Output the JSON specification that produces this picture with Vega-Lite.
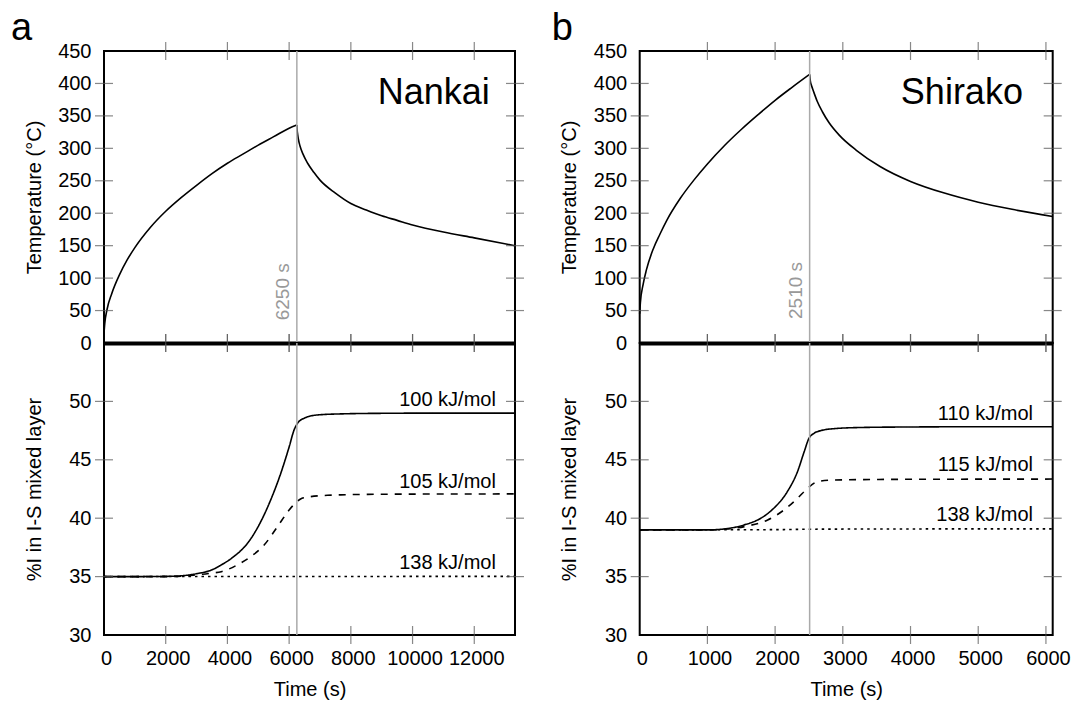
{
  "$schema": "https://vega.github.io/schema/vega-lite/v6.json",
  "background": "white",
  "autosize": {"type": "pad"},
  "padding": {"left": 10, "top": 9, "right": 0, "bottom": 0},
  "config": {
    "font": "Liberation Sans",
    "view": {"stroke": "black", "strokeWidth": 2},
    "axis": {
      "labelFontSize": 20, "labelColor": "black", "titleFontSize": 20, "titleFontWeight": "normal", "titleColor": "black",
      "ticks": false, "zindex": 1, "domain": false, "grid": false, "labelFlush": false, "labelOverlap": false
    },
    "tick": {"color": "#555555", "thickness": 1.2, "size": 18, "clip": true},
    "title": {"fontSize": 38, "fontWeight": "normal", "color": "black", "anchor": "start", "frame": "group", "baseline": "alphabetic"}
  },
  "columns": 2,
  "spacing": {"row": 0, "column": 124.7},
  "bounds": "flush",
  "datasets": {
    "one": [{}],
    "ticksXA": [{"v": 2000}, {"v": 4000}, {"v": 6000}, {"v": 8000}, {"v": 10000}, {"v": 12000}],
    "ticksXB": [{"v": 1000}, {"v": 2000}, {"v": 3000}, {"v": 4000}, {"v": 5000}, {"v": 6000}],
    "ticksYT": [{"v": 50}, {"v": 100}, {"v": 150}, {"v": 200}, {"v": 250}, {"v": 300}, {"v": 350}, {"v": 400}],
    "ticksYI": [{"v": 35}, {"v": 40}, {"v": 45}, {"v": 50}],
    "nankaiT": [
      {"t": 0, "T": 15, "phase": "heating"}, {"t": 25, "T": 30, "phase": "heating"}, {"t": 100, "T": 52, "phase": "heating"},
      {"t": 250, "T": 76, "phase": "heating"}, {"t": 500, "T": 105, "phase": "heating"}, {"t": 750, "T": 128, "phase": "heating"},
      {"t": 1000, "T": 147, "phase": "heating"}, {"t": 1500, "T": 178, "phase": "heating"}, {"t": 2000, "T": 203, "phase": "heating"},
      {"t": 2500, "T": 224, "phase": "heating"}, {"t": 3000, "T": 243, "phase": "heating"}, {"t": 3500, "T": 261, "phase": "heating"},
      {"t": 4000, "T": 277, "phase": "heating"}, {"t": 4500, "T": 291, "phase": "heating"}, {"t": 5000, "T": 305, "phase": "heating"},
      {"t": 5500, "T": 318, "phase": "heating"}, {"t": 6000, "T": 331, "phase": "heating"}, {"t": 6250, "T": 336, "phase": "heating"},
      {"t": 6250, "T": 336, "phase": "cooling"}, {"t": 6260, "T": 328, "phase": "cooling"}, {"t": 6275, "T": 322, "phase": "cooling"},
      {"t": 6300, "T": 314, "phase": "cooling"}, {"t": 6350, "T": 304, "phase": "cooling"}, {"t": 6450, "T": 291, "phase": "cooling"},
      {"t": 6600, "T": 277, "phase": "cooling"}, {"t": 6800, "T": 263, "phase": "cooling"}, {"t": 7000, "T": 251, "phase": "cooling"},
      {"t": 7500, "T": 231, "phase": "cooling"}, {"t": 8000, "T": 215, "phase": "cooling"}, {"t": 8500, "T": 205, "phase": "cooling"},
      {"t": 9000, "T": 196, "phase": "cooling"}, {"t": 9500, "T": 189, "phase": "cooling"}, {"t": 10000, "T": 182, "phase": "cooling"},
      {"t": 11000, "T": 171, "phase": "cooling"}, {"t": 12000, "T": 162, "phase": "cooling"}, {"t": 13320, "T": 150, "phase": "cooling"}
    ],
    "shirakoT": [
      {"t": 0, "T": 45, "phase": "heating"}, {"t": 10, "T": 62, "phase": "heating"}, {"t": 50, "T": 90, "phase": "heating"},
      {"t": 100, "T": 113, "phase": "heating"}, {"t": 200, "T": 145, "phase": "heating"}, {"t": 300, "T": 168, "phase": "heating"},
      {"t": 400, "T": 189, "phase": "heating"}, {"t": 600, "T": 223, "phase": "heating"}, {"t": 800, "T": 251, "phase": "heating"},
      {"t": 1000, "T": 276, "phase": "heating"}, {"t": 1250, "T": 304, "phase": "heating"}, {"t": 1500, "T": 329, "phase": "heating"},
      {"t": 1750, "T": 352, "phase": "heating"}, {"t": 2000, "T": 374, "phase": "heating"}, {"t": 2250, "T": 394, "phase": "heating"},
      {"t": 2510, "T": 414, "phase": "heating"},
      {"t": 2510, "T": 414, "phase": "cooling"}, {"t": 2520, "T": 404, "phase": "cooling"}, {"t": 2540, "T": 396, "phase": "cooling"},
      {"t": 2570, "T": 387, "phase": "cooling"}, {"t": 2620, "T": 373, "phase": "cooling"}, {"t": 2700, "T": 356, "phase": "cooling"},
      {"t": 2800, "T": 339, "phase": "cooling"}, {"t": 2950, "T": 320, "phase": "cooling"}, {"t": 3200, "T": 297, "phase": "cooling"},
      {"t": 3550, "T": 272, "phase": "cooling"}, {"t": 4000, "T": 249, "phase": "cooling"}, {"t": 4500, "T": 231, "phase": "cooling"},
      {"t": 5000, "T": 217, "phase": "cooling"}, {"t": 5500, "T": 206, "phase": "cooling"}, {"t": 6100, "T": 195, "phase": "cooling"}
    ],
    "nankaiI": [
      {"t": 0, "pct": 35, "Ea": "100 kJ/mol"}, {"t": 1000, "pct": 35, "Ea": "100 kJ/mol"}, {"t": 2000, "pct": 35.02, "Ea": "100 kJ/mol"},
      {"t": 2500, "pct": 35.07, "Ea": "100 kJ/mol"}, {"t": 3000, "pct": 35.25, "Ea": "100 kJ/mol"}, {"t": 3500, "pct": 35.58, "Ea": "100 kJ/mol"},
      {"t": 3800, "pct": 36.0, "Ea": "100 kJ/mol"}, {"t": 4200, "pct": 36.7, "Ea": "100 kJ/mol"}, {"t": 4650, "pct": 37.85, "Ea": "100 kJ/mol"},
      {"t": 5080, "pct": 39.7, "Ea": "100 kJ/mol"}, {"t": 5400, "pct": 41.55, "Ea": "100 kJ/mol"}, {"t": 5730, "pct": 43.85, "Ea": "100 kJ/mol"},
      {"t": 6000, "pct": 46.1, "Ea": "100 kJ/mol"}, {"t": 6160, "pct": 47.55, "Ea": "100 kJ/mol"}, {"t": 6270, "pct": 48.12, "Ea": "100 kJ/mol"},
      {"t": 6480, "pct": 48.55, "Ea": "100 kJ/mol"}, {"t": 6920, "pct": 48.84, "Ea": "100 kJ/mol"}, {"t": 7670, "pct": 48.93, "Ea": "100 kJ/mol"},
      {"t": 9000, "pct": 48.98, "Ea": "100 kJ/mol"}, {"t": 11000, "pct": 49.0, "Ea": "100 kJ/mol"}, {"t": 13320, "pct": 49.0, "Ea": "100 kJ/mol"},
      {"t": 0, "pct": 35, "Ea": "105 kJ/mol"}, {"t": 2000, "pct": 35, "Ea": "105 kJ/mol"}, {"t": 2500, "pct": 35.03, "Ea": "105 kJ/mol"},
      {"t": 3000, "pct": 35.15, "Ea": "105 kJ/mol"}, {"t": 3500, "pct": 35.3, "Ea": "105 kJ/mol"}, {"t": 3800, "pct": 35.42, "Ea": "105 kJ/mol"},
      {"t": 4320, "pct": 36.0, "Ea": "105 kJ/mol"}, {"t": 4750, "pct": 36.7, "Ea": "105 kJ/mol"}, {"t": 5190, "pct": 37.7, "Ea": "105 kJ/mol"},
      {"t": 5620, "pct": 39.27, "Ea": "105 kJ/mol"}, {"t": 6000, "pct": 40.7, "Ea": "105 kJ/mol"}, {"t": 6250, "pct": 41.41, "Ea": "105 kJ/mol"},
      {"t": 6400, "pct": 41.68, "Ea": "105 kJ/mol"}, {"t": 6600, "pct": 41.8, "Ea": "105 kJ/mol"}, {"t": 7240, "pct": 41.96, "Ea": "105 kJ/mol"},
      {"t": 7670, "pct": 42.0, "Ea": "105 kJ/mol"}, {"t": 9000, "pct": 42.05, "Ea": "105 kJ/mol"}, {"t": 11000, "pct": 42.07, "Ea": "105 kJ/mol"},
      {"t": 13320, "pct": 42.08, "Ea": "105 kJ/mol"},
      {"t": 0, "pct": 35, "Ea": "138 kJ/mol"}, {"t": 6250, "pct": 35.01, "Ea": "138 kJ/mol"}, {"t": 13320, "pct": 35.02, "Ea": "138 kJ/mol"}
    ],
    "shirakoI": [
      {"t": 0, "pct": 39, "Ea": "110 kJ/mol"}, {"t": 1000, "pct": 39.0, "Ea": "110 kJ/mol"}, {"t": 1300, "pct": 39.12, "Ea": "110 kJ/mol"},
      {"t": 1540, "pct": 39.42, "Ea": "110 kJ/mol"}, {"t": 1790, "pct": 40.0, "Ea": "110 kJ/mol"}, {"t": 1980, "pct": 40.85, "Ea": "110 kJ/mol"},
      {"t": 2180, "pct": 42.27, "Ea": "110 kJ/mol"}, {"t": 2330, "pct": 43.98, "Ea": "110 kJ/mol"}, {"t": 2430, "pct": 45.7, "Ea": "110 kJ/mol"},
      {"t": 2500, "pct": 46.84, "Ea": "110 kJ/mol"}, {"t": 2575, "pct": 47.27, "Ea": "110 kJ/mol"}, {"t": 2675, "pct": 47.5, "Ea": "110 kJ/mol"},
      {"t": 2900, "pct": 47.68, "Ea": "110 kJ/mol"}, {"t": 3300, "pct": 47.77, "Ea": "110 kJ/mol"}, {"t": 4000, "pct": 47.81, "Ea": "110 kJ/mol"},
      {"t": 5000, "pct": 47.83, "Ea": "110 kJ/mol"}, {"t": 6100, "pct": 47.83, "Ea": "110 kJ/mol"},
      {"t": 0, "pct": 39, "Ea": "115 kJ/mol"}, {"t": 1000, "pct": 39.0, "Ea": "115 kJ/mol"}, {"t": 1300, "pct": 39.08, "Ea": "115 kJ/mol"},
      {"t": 1590, "pct": 39.33, "Ea": "115 kJ/mol"}, {"t": 1890, "pct": 39.85, "Ea": "115 kJ/mol"}, {"t": 2130, "pct": 40.7, "Ea": "115 kJ/mol"},
      {"t": 2330, "pct": 41.7, "Ea": "115 kJ/mol"}, {"t": 2480, "pct": 42.56, "Ea": "115 kJ/mol"}, {"t": 2625, "pct": 43.13, "Ea": "115 kJ/mol"},
      {"t": 2800, "pct": 43.25, "Ea": "115 kJ/mol"}, {"t": 3200, "pct": 43.3, "Ea": "115 kJ/mol"}, {"t": 4000, "pct": 43.33, "Ea": "115 kJ/mol"},
      {"t": 6100, "pct": 43.35, "Ea": "115 kJ/mol"},
      {"t": 0, "pct": 39.0, "Ea": "138 kJ/mol"}, {"t": 2000, "pct": 39.02, "Ea": "138 kJ/mol"}, {"t": 2600, "pct": 39.06, "Ea": "138 kJ/mol"},
      {"t": 4000, "pct": 39.08, "Ea": "138 kJ/mol"}, {"t": 6100, "pct": 39.09, "Ea": "138 kJ/mol"}
    ],
    "labelsA": [
      {"t": 12700, "pct": 49.61, "label": "100 kJ/mol"},
      {"t": 12700, "pct": 42.56, "label": "105 kJ/mol"},
      {"t": 12700, "pct": 35.62, "label": "138 kJ/mol"}
    ],
    "labelsB": [
      {"t": 5810, "pct": 48.41, "label": "110 kJ/mol"},
      {"t": 5810, "pct": 44.07, "label": "115 kJ/mol"},
      {"t": 5810, "pct": 39.79, "label": "138 kJ/mol"}
    ]
  },
  "concat": [
    {
      "width": 411, "height": 292,
      "title": {"text": "a", "dx": -93, "offset": -7},
      "resolve": {"axis": {"x": "independent", "y": "independent"}},
      "layer": [
        {
          "data": {"name": "nankaiT"},
          "mark": {"type": "line", "color": "black", "strokeWidth": 1.6, "interpolate": "monotone"},
          "encoding": {
            "x": {"field": "t", "type": "quantitative", "scale": {"domain": [0, 13320], "nice": false},
                  "axis": {"orient": "bottom", "values": [0, 2000, 4000, 6000, 8000, 10000, 12000], "labels": false, "title": null, "domain": true, "domainWidth": 4, "domainColor": "black"}},
            "y": {"field": "T", "type": "quantitative", "scale": {"domain": [0, 450], "nice": false},
                  "axis": {"orient": "left", "values": [0, 50, 100, 150, 200, 250, 300, 350, 400, 450], "title": "Temperature (°C)", "titleX": -60, "labelPadding": 13}},
            "detail": {"field": "phase"}
          }
        },
        {"data": {"name": "ticksXA"}, "mark": {"type": "tick", "orient": "vertical"},
         "encoding": {"x": {"field": "v", "type": "quantitative", "axis": null}, "y": {"datum": 0, "type": "quantitative", "axis": null}}},
        {"data": {"name": "ticksXA"}, "mark": {"type": "tick", "orient": "vertical"},
         "encoding": {"x": {"field": "v", "type": "quantitative", "axis": null}, "y": {"datum": 450, "type": "quantitative", "axis": null}}},
        {"data": {"name": "ticksYT"}, "mark": {"type": "tick", "orient": "horizontal"},
         "encoding": {"y": {"field": "v", "type": "quantitative", "axis": null}, "x": {"datum": 0, "type": "quantitative", "axis": null}}},
        {"data": {"name": "ticksYT"}, "mark": {"type": "tick", "orient": "horizontal"},
         "encoding": {"y": {"field": "v", "type": "quantitative", "axis": null}, "x": {"datum": 13320, "type": "quantitative", "axis": null}}},
        {"data": {"name": "one"}, "mark": {"type": "rule", "color": "#aaaaaa", "strokeWidth": 1.5},
         "encoding": {"x": {"datum": 6250, "type": "quantitative", "axis": null}}},
        {"data": {"name": "one"}, "mark": {"type": "text", "angle": 270, "align": "left", "baseline": "alphabetic", "dy": -8, "fontSize": 19, "color": "#999999"},
         "encoding": {"x": {"datum": 6250, "type": "quantitative", "axis": null}, "y": {"datum": 35, "type": "quantitative", "axis": null}, "text": {"value": "6250 s"}}},
        {"data": {"name": "one"}, "mark": {"type": "text", "align": "right", "baseline": "alphabetic", "fontSize": 36, "color": "black"},
         "encoding": {"x": {"datum": 12500, "type": "quantitative", "axis": null}, "y": {"datum": 369, "type": "quantitative", "axis": null}, "text": {"value": "Nankai"}}}
      ]
    },
    {
      "width": 413, "height": 292,
      "title": {"text": "b", "dx": -88, "offset": -7},
      "resolve": {"axis": {"x": "independent", "y": "independent"}},
      "layer": [
        {
          "data": {"name": "shirakoT"},
          "mark": {"type": "line", "color": "black", "strokeWidth": 1.6, "interpolate": "monotone"},
          "encoding": {
            "x": {"field": "t", "type": "quantitative", "scale": {"domain": [0, 6100], "nice": false},
                  "axis": {"orient": "bottom", "values": [0, 1000, 2000, 3000, 4000, 5000, 6000], "labels": false, "title": null, "domain": true, "domainWidth": 4, "domainColor": "black"}},
            "y": {"field": "T", "type": "quantitative", "scale": {"domain": [0, 450], "nice": false},
                  "axis": {"orient": "left", "values": [0, 50, 100, 150, 200, 250, 300, 350, 400, 450], "title": "Temperature (°C)", "titleX": -60, "labelPadding": 13}},
            "detail": {"field": "phase"}
          }
        },
        {"data": {"name": "ticksXB"}, "mark": {"type": "tick", "orient": "vertical"},
         "encoding": {"x": {"field": "v", "type": "quantitative", "axis": null}, "y": {"datum": 0, "type": "quantitative", "axis": null}}},
        {"data": {"name": "ticksXB"}, "mark": {"type": "tick", "orient": "vertical"},
         "encoding": {"x": {"field": "v", "type": "quantitative", "axis": null}, "y": {"datum": 450, "type": "quantitative", "axis": null}}},
        {"data": {"name": "ticksYT"}, "mark": {"type": "tick", "orient": "horizontal"},
         "encoding": {"y": {"field": "v", "type": "quantitative", "axis": null}, "x": {"datum": 0, "type": "quantitative", "axis": null}}},
        {"data": {"name": "ticksYT"}, "mark": {"type": "tick", "orient": "horizontal"},
         "encoding": {"y": {"field": "v", "type": "quantitative", "axis": null}, "x": {"datum": 6100, "type": "quantitative", "axis": null}}},
        {"data": {"name": "one"}, "mark": {"type": "rule", "color": "#aaaaaa", "strokeWidth": 1.5},
         "encoding": {"x": {"datum": 2510, "type": "quantitative", "axis": null}}},
        {"data": {"name": "one"}, "mark": {"type": "text", "angle": 270, "align": "left", "baseline": "alphabetic", "dy": -8, "fontSize": 19, "color": "#999999"},
         "encoding": {"x": {"datum": 2510, "type": "quantitative", "axis": null}, "y": {"datum": 37, "type": "quantitative", "axis": null}, "text": {"value": "2510 s"}}},
        {"data": {"name": "one"}, "mark": {"type": "text", "align": "right", "baseline": "alphabetic", "fontSize": 36, "color": "black"},
         "encoding": {"x": {"datum": 5660, "type": "quantitative", "axis": null}, "y": {"datum": 369, "type": "quantitative", "axis": null}, "text": {"value": "Shirako"}}}
      ]
    },
    {
      "width": 411, "height": 292,
      "resolve": {"axis": {"x": "independent", "y": "independent"}},
      "layer": [
        {
          "data": {"name": "nankaiI"},
          "mark": {"type": "line", "color": "black", "strokeWidth": 1.6, "interpolate": "monotone"},
          "encoding": {
            "x": {"field": "t", "type": "quantitative", "scale": {"domain": [0, 13320], "nice": false},
                  "axis": {"orient": "bottom", "values": [0, 2000, 4000, 6000, 8000, 10000, 12000], "format": "d", "title": "Time (s)", "labelPadding": 13.8, "labelOffset": 2, "titlePadding": 11}},
            "y": {"field": "pct", "type": "quantitative", "scale": {"domain": [30, 55], "nice": false},
                  "axis": {"orient": "left", "values": [30, 35, 40, 45, 50], "title": "%I in I-S mixed layer", "titleX": -60, "labelPadding": 13}},
            "strokeDash": {"field": "Ea", "type": "nominal", "legend": null,
                           "scale": {"domain": ["100 kJ/mol", "105 kJ/mol", "138 kJ/mol"], "range": [[1, 0], [7, 7], [2.5, 4]]}}
          }
        },
        {"data": {"name": "ticksXA"}, "mark": {"type": "tick", "orient": "vertical"},
         "encoding": {"x": {"field": "v", "type": "quantitative", "axis": null}, "y": {"datum": 30, "type": "quantitative", "axis": null}}},
        {"data": {"name": "ticksXA"}, "mark": {"type": "tick", "orient": "vertical"},
         "encoding": {"x": {"field": "v", "type": "quantitative", "axis": null}, "y": {"datum": 55, "type": "quantitative", "axis": null}}},
        {"data": {"name": "ticksYI"}, "mark": {"type": "tick", "orient": "horizontal"},
         "encoding": {"y": {"field": "v", "type": "quantitative", "axis": null}, "x": {"datum": 0, "type": "quantitative", "axis": null}}},
        {"data": {"name": "ticksYI"}, "mark": {"type": "tick", "orient": "horizontal"},
         "encoding": {"y": {"field": "v", "type": "quantitative", "axis": null}, "x": {"datum": 13320, "type": "quantitative", "axis": null}}},
        {"data": {"name": "one"}, "mark": {"type": "rule", "color": "#aaaaaa", "strokeWidth": 1.5},
         "encoding": {"x": {"datum": 6250, "type": "quantitative", "axis": null}}},
        {
          "data": {"name": "labelsA"},
          "mark": {"type": "text", "align": "right", "baseline": "alphabetic", "fontSize": 20, "color": "black"},
          "encoding": {"x": {"field": "t", "type": "quantitative", "axis": null}, "y": {"field": "pct", "type": "quantitative", "axis": null}, "text": {"field": "label"}}
        }
      ]
    },
    {
      "width": 413, "height": 292,
      "resolve": {"axis": {"x": "independent", "y": "independent"}},
      "layer": [
        {
          "data": {"name": "shirakoI"},
          "mark": {"type": "line", "color": "black", "strokeWidth": 1.6, "interpolate": "monotone"},
          "encoding": {
            "x": {"field": "t", "type": "quantitative", "scale": {"domain": [0, 6100], "nice": false},
                  "axis": {"orient": "bottom", "values": [0, 1000, 2000, 3000, 4000, 5000, 6000], "format": "d", "title": "Time (s)", "labelPadding": 13.8, "labelOffset": 2, "titlePadding": 11}},
            "y": {"field": "pct", "type": "quantitative", "scale": {"domain": [30, 55], "nice": false},
                  "axis": {"orient": "left", "values": [30, 35, 40, 45, 50], "title": "%I in I-S mixed layer", "titleX": -60, "labelPadding": 13}},
            "strokeDash": {"field": "Ea", "type": "nominal", "legend": null,
                           "scale": {"domain": ["110 kJ/mol", "115 kJ/mol", "138 kJ/mol"], "range": [[1, 0], [7, 7], [2.5, 4]]}}
          }
        },
        {"data": {"name": "ticksXB"}, "mark": {"type": "tick", "orient": "vertical"},
         "encoding": {"x": {"field": "v", "type": "quantitative", "axis": null}, "y": {"datum": 30, "type": "quantitative", "axis": null}}},
        {"data": {"name": "ticksXB"}, "mark": {"type": "tick", "orient": "vertical"},
         "encoding": {"x": {"field": "v", "type": "quantitative", "axis": null}, "y": {"datum": 55, "type": "quantitative", "axis": null}}},
        {"data": {"name": "ticksYI"}, "mark": {"type": "tick", "orient": "horizontal"},
         "encoding": {"y": {"field": "v", "type": "quantitative", "axis": null}, "x": {"datum": 0, "type": "quantitative", "axis": null}}},
        {"data": {"name": "ticksYI"}, "mark": {"type": "tick", "orient": "horizontal"},
         "encoding": {"y": {"field": "v", "type": "quantitative", "axis": null}, "x": {"datum": 6100, "type": "quantitative", "axis": null}}},
        {"data": {"name": "one"}, "mark": {"type": "rule", "color": "#aaaaaa", "strokeWidth": 1.5},
         "encoding": {"x": {"datum": 2510, "type": "quantitative", "axis": null}}},
        {
          "data": {"name": "labelsB"},
          "mark": {"type": "text", "align": "right", "baseline": "alphabetic", "fontSize": 20, "color": "black"},
          "encoding": {"x": {"field": "t", "type": "quantitative", "axis": null}, "y": {"field": "pct", "type": "quantitative", "axis": null}, "text": {"field": "label"}}
        }
      ]
    }
  ]
}
